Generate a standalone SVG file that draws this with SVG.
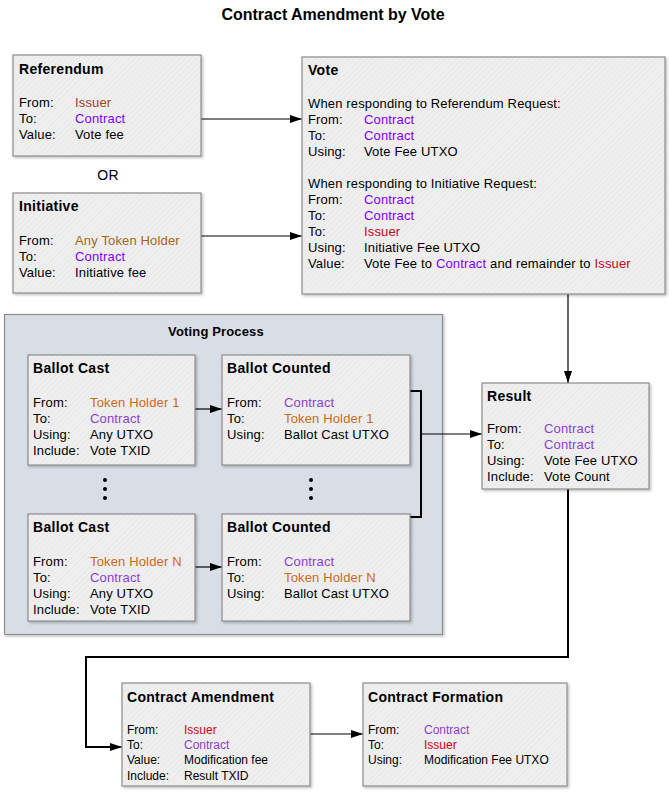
<svg xmlns="http://www.w3.org/2000/svg" width="670" height="794" viewBox="0 0 670 794">
<defs>
<pattern id="hatch" width="4" height="4" patternUnits="userSpaceOnUse" patternTransform="rotate(45)">
<rect width="4" height="4" fill="#efefef"/>
<line x1="0" y1="0" x2="0" y2="4" stroke="#e6e6e6" stroke-width="1.5"/>
</pattern>
<filter id="sh" x="-5%" y="-5%" width="115%" height="115%">
<feDropShadow dx="1.5" dy="1.5" stdDeviation="1" flood-color="#000" flood-opacity="0.25"/>
</filter>
<marker id="arr" viewBox="0 0 12 8" refX="12" refY="4" markerWidth="12" markerHeight="8" markerUnits="userSpaceOnUse" orient="auto">
<path d="M0,0 L12,4 L0,8 Z" fill="#000"/>
</marker>
</defs>
<style>
text{font-family:"Liberation Sans",Arial,sans-serif;font-size:13px;letter-spacing:0.15px;fill:#000}
.t{font-weight:bold;font-size:14px;letter-spacing:0.3px}
.s{font-size:12px;letter-spacing:0}
.box{fill:url(#hatch);stroke:#8c8c8c;stroke-width:1.2;filter:url(#sh)}
.c{fill:#8000ff}
.c2{fill:#8a3fd0}
.i1{fill:#a0402a}
.ir{fill:#cc0022}
.th{fill:#a8641a}
.to{fill:#cc6a18}
.ln{fill:none;stroke:#000;stroke-width:1.2}
.ln2{fill:none;stroke:#000;stroke-width:2}
</style>
<text x="333" y="20" text-anchor="middle" style="font-weight:bold;font-size:16px;letter-spacing:0">Contract Amendment by Vote</text>

<g id="voting-process">
<rect x="4.5" y="314.5" width="438" height="320" fill="#d9dee6" stroke="#8c8c8c" stroke-width="1.2" filter="url(#sh)"/>
<text x="216" y="336" text-anchor="middle" style="font-weight:bold;font-size:13px">Voting Process</text>
</g>

<g id="connectors">
<line class="ln" x1="201" y1="119" x2="302" y2="119" marker-end="url(#arr)"/>
<line class="ln" x1="201" y1="236" x2="302" y2="236" marker-end="url(#arr)"/>
<line class="ln" x1="568" y1="294" x2="568" y2="383" marker-end="url(#arr)"/>
<line class="ln" x1="195" y1="409" x2="222" y2="409" marker-end="url(#arr)"/>
<line class="ln" x1="195" y1="567" x2="222" y2="567" marker-end="url(#arr)"/>
<polyline class="ln2" points="410,391 421,391 421,517 410,517"/>
<line class="ln" x1="421" y1="434" x2="482" y2="434" marker-end="url(#arr)"/>
<polyline class="ln2" points="568,489 568,657 86,657 86,747 110,747"/>
<line class="ln" x1="110" y1="747" x2="122" y2="747" marker-end="url(#arr)"/>
<line class="ln" x1="310" y1="734" x2="363" y2="734" marker-end="url(#arr)"/>
<g fill="#000">
<circle cx="105" cy="480" r="2"/><circle cx="105" cy="489" r="2"/><circle cx="105" cy="498" r="2"/>
<circle cx="311" cy="480" r="2"/><circle cx="311" cy="489" r="2"/><circle cx="311" cy="498" r="2"/>
</g>
</g>

<g id="referendum">
<rect class="box" x="13" y="55" width="188" height="101"/>
<text x="19" y="74" class="t">Referendum</text>
<text x="19" y="107">From:</text><text x="75" y="107" class="i1">Issuer</text>
<text x="19" y="123">To:</text><text x="75" y="123" class="c">Contract</text>
<text x="19" y="139">Value:</text><text x="75" y="139">Vote fee</text>
</g>

<text x="108" y="180" text-anchor="middle" style="font-size:14px">OR</text>

<g id="initiative">
<rect class="box" x="13" y="193" width="188" height="100"/>
<text x="19" y="211" class="t">Initiative</text>
<text x="19" y="245">From:</text><text x="75" y="245" class="th">Any Token Holder</text>
<text x="19" y="261">To:</text><text x="75" y="261" class="c">Contract</text>
<text x="19" y="277">Value:</text><text x="75" y="277">Initiative fee</text>
</g>

<g id="vote">
<rect class="box" x="302" y="57" width="363" height="237"/>
<text x="308" y="75" class="t">Vote</text>
<text x="308" y="108">When responding to Referendum Request:</text>
<text x="308" y="124">From:</text><text x="364" y="124" class="c">Contract</text>
<text x="308" y="140">To:</text><text x="364" y="140" class="c">Contract</text>
<text x="308" y="156">Using:</text><text x="364" y="156">Vote Fee UTXO</text>
<text x="308" y="188">When responding to Initiative Request:</text>
<text x="308" y="204">From:</text><text x="364" y="204" class="c">Contract</text>
<text x="308" y="220">To:</text><text x="364" y="220" class="c">Contract</text>
<text x="308" y="236">To:</text><text x="364" y="236" class="ir">Issuer</text>
<text x="308" y="252">Using:</text><text x="364" y="252">Initiative Fee UTXO</text>
<text x="308" y="268">Value:</text><text x="364" y="268">Vote Fee to <tspan class="c">Contract</tspan> and remainder to <tspan class="ir">Issuer</tspan></text>
</g>

<g id="ballot-cast-1">
<rect class="box" x="28" y="355" width="167" height="110"/>
<text x="33" y="373" class="t">Ballot Cast</text>
<text x="33" y="407">From:</text><text x="90" y="407" class="to">Token Holder 1</text>
<text x="33" y="423">To:</text><text x="90" y="423" class="c2">Contract</text>
<text x="33" y="439">Using:</text><text x="90" y="439">Any UTXO</text>
<text x="33" y="455">Include:</text><text x="90" y="455">Vote TXID</text>
</g>

<g id="ballot-counted-1">
<rect class="box" x="222" y="355" width="188" height="110"/>
<text x="227" y="373" class="t">Ballot Counted</text>
<text x="227" y="407">From:</text><text x="284" y="407" class="c2">Contract</text>
<text x="227" y="423">To:</text><text x="284" y="423" class="to">Token Holder 1</text>
<text x="227" y="439">Using:</text><text x="284" y="439">Ballot Cast UTXO</text>
</g>

<g id="ballot-cast-n">
<rect class="box" x="28" y="514" width="167" height="107"/>
<text x="33" y="532" class="t">Ballot Cast</text>
<text x="33" y="566">From:</text><text x="90" y="566" class="to">Token Holder N</text>
<text x="33" y="582">To:</text><text x="90" y="582" class="c2">Contract</text>
<text x="33" y="598">Using:</text><text x="90" y="598">Any UTXO</text>
<text x="33" y="614">Include:</text><text x="90" y="614">Vote TXID</text>
</g>

<g id="ballot-counted-n">
<rect class="box" x="222" y="514" width="188" height="107"/>
<text x="227" y="532" class="t">Ballot Counted</text>
<text x="227" y="566">From:</text><text x="284" y="566" class="c2">Contract</text>
<text x="227" y="582">To:</text><text x="284" y="582" class="to">Token Holder N</text>
<text x="227" y="598">Using:</text><text x="284" y="598">Ballot Cast UTXO</text>
</g>

<g id="result">
<rect class="box" x="482" y="383" width="167" height="106"/>
<text x="487" y="401" class="t">Result</text>
<text x="487" y="433">From:</text><text x="544" y="433" class="c2">Contract</text>
<text x="487" y="449">To:</text><text x="544" y="449" class="c2">Contract</text>
<text x="487" y="465">Using:</text><text x="544" y="465">Vote Fee UTXO</text>
<text x="487" y="481">Include:</text><text x="544" y="481">Vote Count</text>
</g>

<g id="contract-amendment">
<rect class="box" x="122" y="683" width="188" height="103"/>
<text x="127" y="702" class="t">Contract Amendment</text>
<text x="127" y="734" class="s">From:</text><text x="184" y="734" class="s ir">Issuer</text>
<text x="127" y="749" class="s">To:</text><text x="184" y="749" class="s c2">Contract</text>
<text x="127" y="764" class="s">Value:</text><text x="184" y="764" class="s">Modification fee</text>
<text x="127" y="780" class="s">Include:</text><text x="184" y="780" class="s">Result TXID</text>
</g>

<g id="contract-formation">
<rect class="box" x="363" y="683" width="204" height="103"/>
<text x="368" y="702" class="t">Contract Formation</text>
<text x="368" y="734" class="s">From:</text><text x="424" y="734" class="s c2">Contract</text>
<text x="368" y="749" class="s">To:</text><text x="424" y="749" class="s ir">Issuer</text>
<text x="368" y="764" class="s">Using:</text><text x="424" y="764" class="s">Modification Fee UTXO</text>
</g>
</svg>
